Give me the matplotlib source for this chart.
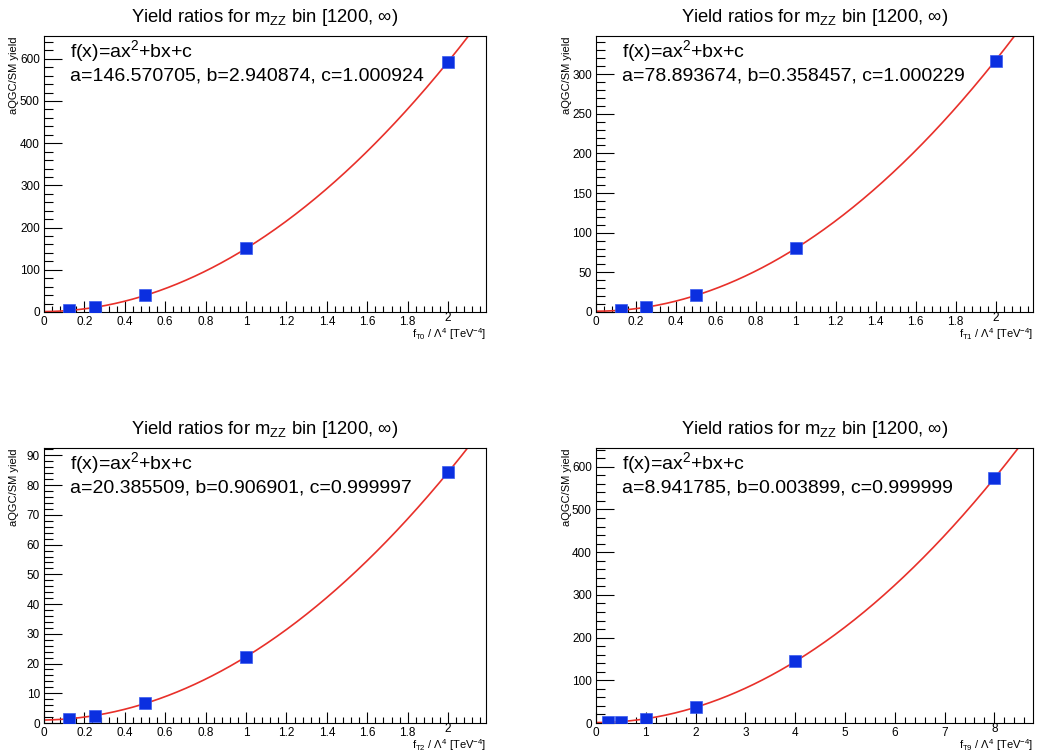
import numpy as np
import matplotlib
matplotlib.use("Agg")
import matplotlib.pyplot as plt
from matplotlib.ticker import MultipleLocator
from matplotlib.transforms import ScaledTranslation

plt.rcParams["font.family"] = ["Liberation Sans", "DejaVu Sans"]
plt.rcParams["mathtext.fontset"] = "custom"
plt.rcParams["mathtext.rm"] = "Liberation Sans"
plt.rcParams["mathtext.it"] = "Liberation Sans:italic"

# operator points and aQGC/SM yield ratios
x_t0 = [0.125, 0.25, 0.5, 1, 2]
y_t0 = [3.7, 10.9, 39.1, 150.5, 593.2]
x_t1 = [0.125, 0.25, 0.5, 1, 2]
y_t1 = [2.3, 6.0, 20.9, 80.3, 316.3]
x_t2 = [0.125, 0.25, 0.5, 1, 2]
y_t2 = [1.4, 2.5, 6.6, 22.3, 84.4]
x_t9 = [0.25, 0.5, 1, 2, 4, 8]
y_t9 = [1.6, 3.2, 10.0, 36.8, 144.1, 573.3]

# fit parameters (a, b, c) as printed
fit_t0 = (146.570705, 2.940874, 1.000924)
fit_t1 = (78.893674, 0.358457, 1.000229)
fit_t2 = (20.385509, 0.906901, 0.999997)
fit_t9 = (8.941785, 0.003899, 0.999999)

W, H = 1043, 754
fig = plt.figure(figsize=(W / 100, H / 100), dpi=100)


def panel(rect, xs, ys, fit, name, xmax, ymax, xmaj, ymaj):
    ax = fig.add_axes([rect[0] / W, 1 - rect[3] / H,
                       (rect[2] - rect[0]) / W, (rect[3] - rect[1]) / H])
    a, b, c = fit
    xf = np.linspace(0, xmax, 400)
    ax.plot(xf, a * xf ** 2 + b * xf + c, color="#e8302a", lw=1.2, zorder=2)
    ax.plot(xs, ys, ls="none", marker="s", ms=8.5, color="#0b2fe0",
            mec="#3a5cf0", mew=0.5, zorder=3)
    ax.set_xlim(0, xmax)
    ax.set_ylim(0, ymax)
    ax.xaxis.set_major_locator(MultipleLocator(xmaj))
    ax.xaxis.set_minor_locator(MultipleLocator(xmaj / 5))
    ax.yaxis.set_major_locator(MultipleLocator(ymaj))
    ax.yaxis.set_minor_locator(MultipleLocator(ymaj / 5))
    ax.xaxis.set_major_formatter(plt.FuncFormatter(lambda v, p: f"{v:g}"))
    ax.yaxis.set_major_formatter(plt.FuncFormatter(lambda v, p: f"{v:g}"))
    ax.tick_params(which="both", direction="in", top=False, right=False,
                   labelsize=8.5, width=0.8, pad=3)
    ax.tick_params(axis="x", which="major", length=8)
    ax.tick_params(axis="x", which="minor", length=4)
    ax.tick_params(axis="y", which="major", length=13)
    ax.tick_params(axis="y", which="minor", length=6.5)
    for s in ax.spines.values():
        s.set_linewidth(0.8)

    # last x label sits a bit higher, like ROOT does
    fig.canvas.draw()
    ticks = [t for t in ax.get_xticks() if t <= xmax]
    lab = ax.get_xticklabels()[len(ticks) - 1]
    lab.set_transform(lab.get_transform() + ScaledTranslation(0, 3 / 72, fig.dpi_scale_trans))

    ax.set_title(r"Yield ratios for m$_{\rm ZZ}$ bin [1200, ∞)", fontsize=13.3, pad=10)
    ax.text(0.059, 0.946, r"f(x)=ax$^{2}$+bx+c", transform=ax.transAxes,
            fontsize=14, va="center")
    ax.text(0.059, 0.855, f"a={a:.6f}, b={b:.6f}, c={c:.6f}", transform=ax.transAxes,
            fontsize=14, va="center")
    ax.set_ylabel("aQGC/SM yield", fontsize=8, loc="top")
    ax.yaxis.set_label_coords(-0.056, 1.0)
    ax.set_xlabel(r"f$_{\rm " + name + r"}$ / Λ$^{4}$ [TeV$^{-4}$]", fontsize=8,
                  loc="right", labelpad=-1.5)
    return ax


panel((44, 36, 486, 312), x_t0, y_t0, fit_t0, "T0", 2.1875, 654, 0.2, 100)
panel((596, 36, 1033, 312), x_t1, y_t1, fit_t1, "T1", 2.1875, 348, 0.2, 50)
panel((44, 448, 486, 723), x_t2, y_t2, fit_t2, "T2", 2.1875, 92.5, 0.2, 10)
panel((596, 448, 1033, 723), x_t9, y_t9, fit_t9, "T9", 8.775, 644, 1, 100)

fig.savefig("out.png", dpi=100)
